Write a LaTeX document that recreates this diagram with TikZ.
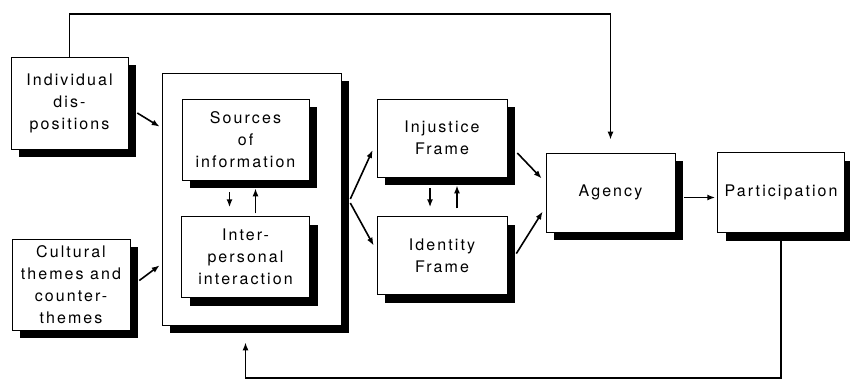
\documentclass[tikz,border=0pt]{standalone}
\usepackage{fontspec}
\setmainfont{TeX Gyre Heros}[LetterSpace=13]
\usetikzlibrary{positioning, calc, shadows, arrows.meta}

\begin{document}
\begin{tikzpicture}[x=1pt,y=-1pt,auto,>={Latex[length=8pt,width=6pt]},
    box/.style={draw,fill=white,line width=0.6pt,align=center,inner sep=2pt,
      general shadow={fill=black,shadow xshift=8pt,shadow yshift=-8pt},
      font=\fontsize{16}{22}\selectfont},
    link/.style={->,line width=1.6pt}]
      \useasboundingbox (0,0) rectangle (850,381);
      %
      \node[box, minimum width=117pt, minimum height=92pt] (indiv) at (69.5,103) {Individual\\dis-\\positions};
      \node[box, minimum width=118pt, minimum height=91pt] (cult) at (71,284.5) {Cultural\\themes and\\counter-\\themes};
      \node[box, minimum width=179pt, minimum height=252pt] (outer) at (251.5,199) {};
      \node[box, minimum width=127pt, minimum height=81pt] (sources) at (245.5,139.5) {Sources\\of\\information};
      \node[box, minimum width=128pt, minimum height=81pt, below=36pt of sources] (inter) {Inter-\\personal\\interaction};
      \node[box, minimum width=130pt, minimum height=78pt] (injust) at (442,138) {Injustice\\Frame};
      \node[box, minimum width=130pt, minimum height=78pt, below=39pt of injust] (ident) {Identity\\Frame};
      \node[box, minimum width=129pt, minimum height=79pt] (agency) at (610.5,192.5) {Agency};
      \node[box, minimum width=127pt, minimum height=80pt, right=42pt of agency] (partic) {Participation};
      %
      \coordinate (top) at (0,14);
      \coordinate (bottom) at (0,378);
      %
      \draw[link] (indiv.north) -- (indiv.north |- top) -| ([yshift=13pt]agency.north);
      \draw[link] (partic.south) -- (partic.south |- bottom) -| ([xshift=-6pt,yshift=-17pt]outer.south);

      \draw[link] ([xshift=9pt,yshift=-10pt]indiv.east) -- ([xshift=-2pt,yshift=-54pt]outer.north west);
      \draw[link] ([xshift=9pt,yshift=4pt]cult.east) -- ([xshift=-2pt,yshift=60pt]outer.south west);

      \draw[link] ([xshift=-16pt,yshift=-12pt]sources.south) -- ([xshift=-16pt,yshift=9pt]inter.north);
      \draw[link] ([xshift=10pt,yshift=3pt]inter.north) -- ([xshift=10pt,yshift=-8pt]sources.south);

      \draw[link] ([xshift=9pt]outer.east) -- ([xshift=-4pt,yshift=-12pt]injust.west);
      \draw[link] ([xshift=9pt,yshift=-4pt]outer.east) -- ([xshift=-3pt,yshift=10pt]ident.west);

      \draw[link] ([xshift=-12pt,yshift=-11pt]injust.south) -- ([xshift=-12pt,yshift=9pt]ident.north);
      \draw[link] ([xshift=15pt,yshift=8pt]ident.north) -- ([xshift=15pt,yshift=-8pt]injust.south);

      \draw[link] ([xshift=10pt,yshift=-15pt]injust.east) -- ([xshift=-4pt,yshift=14pt]agency.west);
      \draw[link] ([xshift=9pt,yshift=2pt]ident.east) -- ([xshift=-3pt,yshift=-19pt]agency.west);

      \draw[link] ([xshift=9pt,yshift=-5pt]agency.east) -- ([xshift=-2pt,yshift=-5pt]partic.west);
\end{tikzpicture}
\end{document}
